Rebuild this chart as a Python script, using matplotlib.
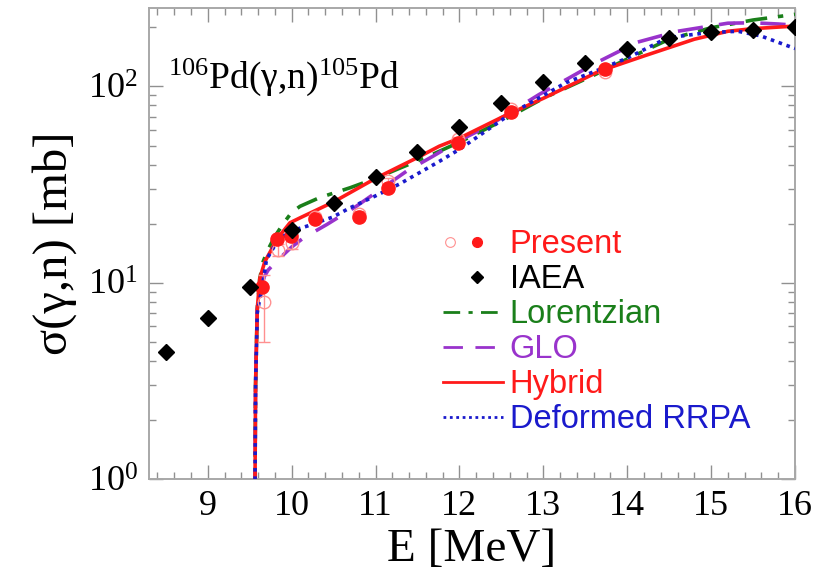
import matplotlib
matplotlib.use('Agg')
import matplotlib.pyplot as plt
from matplotlib.ticker import MultipleLocator, NullFormatter, LogLocator
from matplotlib.legend_handler import HandlerBase
from matplotlib.lines import Line2D

plt.rcParams['font.family'] = ['Liberation Serif', 'DejaVu Serif']
plt.rcParams['mathtext.fontset'] = 'custom'
plt.rcParams['mathtext.rm'] = 'Liberation Serif'
plt.rcParams['mathtext.it'] = 'Liberation Serif:italic'
plt.rcParams['mathtext.default'] = 'regular'

# IAEA evaluated data
iaea_e = [8.5, 9.0, 9.5, 10.0, 10.5, 11.0, 11.5, 12.0, 12.5, 13.0, 13.5, 14.0, 14.5, 15.0, 15.5, 16.0]
iaea_xs = [4.45, 6.6, 9.5, 18.6, 25.4, 34.5, 46.4, 61.8, 82.0, 105.5, 131, 156, 176, 190, 195, 200]

# present data (filled) and unfolded data with errors (open)
pres_e = [9.65, 9.83, 9.99, 10.28, 10.8, 11.15, 11.98, 12.62, 13.73]
pres_xs = [9.5, 16.7, 17.2, 21.0, 21.6, 30.4, 51.2, 74.3, 122]
open_e = [9.67, 9.84, 10.0, 10.28, 10.8, 11.15, 11.98, 12.62, 13.73]
open_xs = [8.0, 14.7, 15.9, 21.7, 22.5, 32.9, 54.0, 76.3, 119]
open_err = [3.0, 1.0, 1.0, 0.8, 0.8, 1.2, 1.5, 2.0, 3.0]

# model curves
lor_e = [9.56, 9.57, 9.59, 9.62, 9.66, 9.72, 9.8, 9.9, 10.0, 10.1, 10.33, 10.7, 11.0, 11.3, 11.6,
         12.0, 12.5, 13.0, 13.6, 14.0, 14.5, 15.0, 15.5, 16.0]
lor_xs = [0.5, 3.0, 7.3, 10.5, 12.8, 14.8, 17.2, 20.0, 22.8, 24.5, 27.1, 30.5, 34.0, 38.5, 43.5,
          52.0, 66.5, 87.0, 114, 138, 174, 199, 218, 233]

glo_e = [9.56, 9.57, 9.59, 9.62, 9.66, 9.72, 9.8, 9.88, 10.0, 10.14, 10.42, 10.77, 11.0, 11.37, 11.68,
         12.0, 12.36, 12.95, 13.3, 13.6, 14.12, 14.6, 15.2, 15.5, 15.8, 16.0]
glo_xs = [0.5, 3.0, 7.3, 9.5, 10.5, 11.6, 12.6, 13.6, 15.2, 16.9, 19.8, 24.5, 28.7, 37.0, 44.0,
          53.0, 63.5, 91.0, 110, 130, 168, 191, 210, 211, 208, 205]

hyb_e = [9.56, 9.57, 9.59, 9.62, 9.68, 9.75, 9.82, 9.9, 9.98, 10.1, 10.5, 11.0, 11.29, 11.5, 11.76,
         12.0, 12.5, 13.0, 13.67, 14.2, 14.8, 15.2, 15.5, 16.0]
hyb_xs = [0.5, 3.0, 7.3, 10.5, 12.8, 14.5, 16.6, 18.3, 20.2, 21.4, 25.8, 34.0, 39.2, 43.4, 49.6,
          54.5, 69.5, 87.0, 119.7, 143, 174, 191, 197, 203]

rrpa_e = [9.56, 9.57, 9.59, 9.62, 9.64, 9.7, 9.8, 9.9, 9.98, 10.18, 10.49, 10.69, 11.0, 11.29, 11.76,
          12.0, 12.6, 13.27, 13.67, 14.01, 14.48, 14.96, 15.32, 15.59, 16.0]
rrpa_xs = [0.5, 3.0, 7.0, 8.3, 8.9, 13.1, 15.5, 17.2, 18.3, 19.4, 21.6, 24.0, 27.7, 31.9, 41.5,
           47.8, 72.0, 104.5, 122, 140, 177, 188, 191, 181, 156]

c_green = '#1a7f1a'
c_purple = '#9933cc'
c_red = '#ff1a1a'
c_blue = '#1a1acc'
c_pink = '#ff9090'


class MarkerHandler(HandlerBase):
    """puts copies of marker styles at chosen fractions of the handle width"""
    def __init__(self, styles):
        super().__init__()
        self.styles = styles

    def create_artists(self, legend, orig_handle, xdescent, ydescent, width, height, fontsize, trans):
        y = height / 2 - ydescent
        arts = []
        for frac, kw in self.styles:
            ln = Line2D([frac * width - xdescent], [y], ls='none', **kw)
            ln.set_transform(trans)
            arts.append(ln)
        return arts


fig = plt.figure(figsize=(8.26, 5.83), dpi=100)
ax = fig.add_axes([0.1804, 0.1784, 0.7821, 0.8079])

ax.plot(lor_e, lor_xs, color=c_green, lw=2.6, ls=(0, (6, 3, 1.5, 3)), zorder=3)
ax.plot(glo_e, glo_xs, color=c_purple, lw=2.6, ls=(0, (7, 4.5)), zorder=3)
ax.plot(hyb_e, hyb_xs, color=c_red, lw=2.6, ls='-', zorder=4)
ax.plot(rrpa_e, rrpa_xs, color=c_blue, lw=2.6, ls=(0, (1, 1.3)), zorder=5)

ax.errorbar(open_e, open_xs, yerr=open_err, fmt='o', ms=9, mfc='none', mec=c_pink, mew=1.0,
            ecolor=c_pink, elinewidth=1.0, capsize=4, capthick=1.0, zorder=6)
ax.plot(pres_e, pres_xs, 'o', ms=9.5, color=c_red, zorder=7)
ax.plot(iaea_e, iaea_xs, 'D', ms=8, color='black', zorder=8)

ax.set_yscale('log')
ax.set_xlim(8.3, 16.0)
ax.set_ylim(1, 251)
ax.xaxis.set_major_locator(MultipleLocator(1))
ax.xaxis.set_minor_locator(MultipleLocator(0.2))
ax.yaxis.set_major_locator(LogLocator(base=10))
ax.yaxis.set_minor_locator(LogLocator(base=10, subs=range(2, 10)))
ax.yaxis.set_minor_formatter(NullFormatter())

for s in ax.spines.values():
    s.set_color('#a8a8a8')
    s.set_linewidth(1.4)
ax.tick_params(which='both', direction='in', top=True, right=True, color='#909090', width=1.0,
               labelsize=26, pad=8, labelfontfamily='Liberation Serif')
ax.tick_params(which='major', length=10)
ax.tick_params(which='minor', length=5)

ax.set_xlabel('E [MeV]', fontsize=34, labelpad=4)
ax.set_ylabel('σ(γ,n) [mb]', fontsize=35, labelpad=8)

ax.text(0.03, 0.83, r'$^{106}$Pd(γ,n)$^{105}$Pd', transform=ax.transAxes, fontsize=27)

h_pres = object()
h_iaea = object()
h_lor = Line2D([], [], color=c_green, lw=2.0, ls=(0, (6, 3, 1.5, 3)))
h_glo = Line2D([], [], color=c_purple, lw=2.0, ls=(0, (7, 4.5)))
h_hyb = Line2D([], [], color=c_red, lw=2.0)
h_rrpa = Line2D([], [], color=c_blue, lw=2.0, ls=(0, (1, 1.3)))

pres_handler = MarkerHandler([(0.12, dict(marker='o', ms=7, mfc='none', mec=c_pink, mew=0.8)),
                              (0.56, dict(marker='o', ms=7, color=c_red))])
iaea_handler = MarkerHandler([(0.57, dict(marker='D', ms=6, color='black'))])

labels = ['Present', 'IAEA', 'Lorentzian', 'GLO', 'Hybrid', 'Deformed RRPA']
leg = ax.legend([h_pres, h_iaea, h_lor, h_glo, h_hyb, h_rrpa], labels,
                handler_map={h_pres: pres_handler, h_iaea: iaea_handler},
                loc='upper left', bbox_to_anchor=(0.455, 0.53), frameon=False,
                prop={'family': 'Liberation Sans', 'size': 23.5}, handlelength=1.85,
                handletextpad=0.2, labelspacing=0.12, borderaxespad=0, borderpad=0)
for t, c in zip(leg.get_texts(), [c_red, 'black', c_green, c_purple, c_red, c_blue]):
    t.set_color(c)

fig.savefig('out.png', dpi=100)
